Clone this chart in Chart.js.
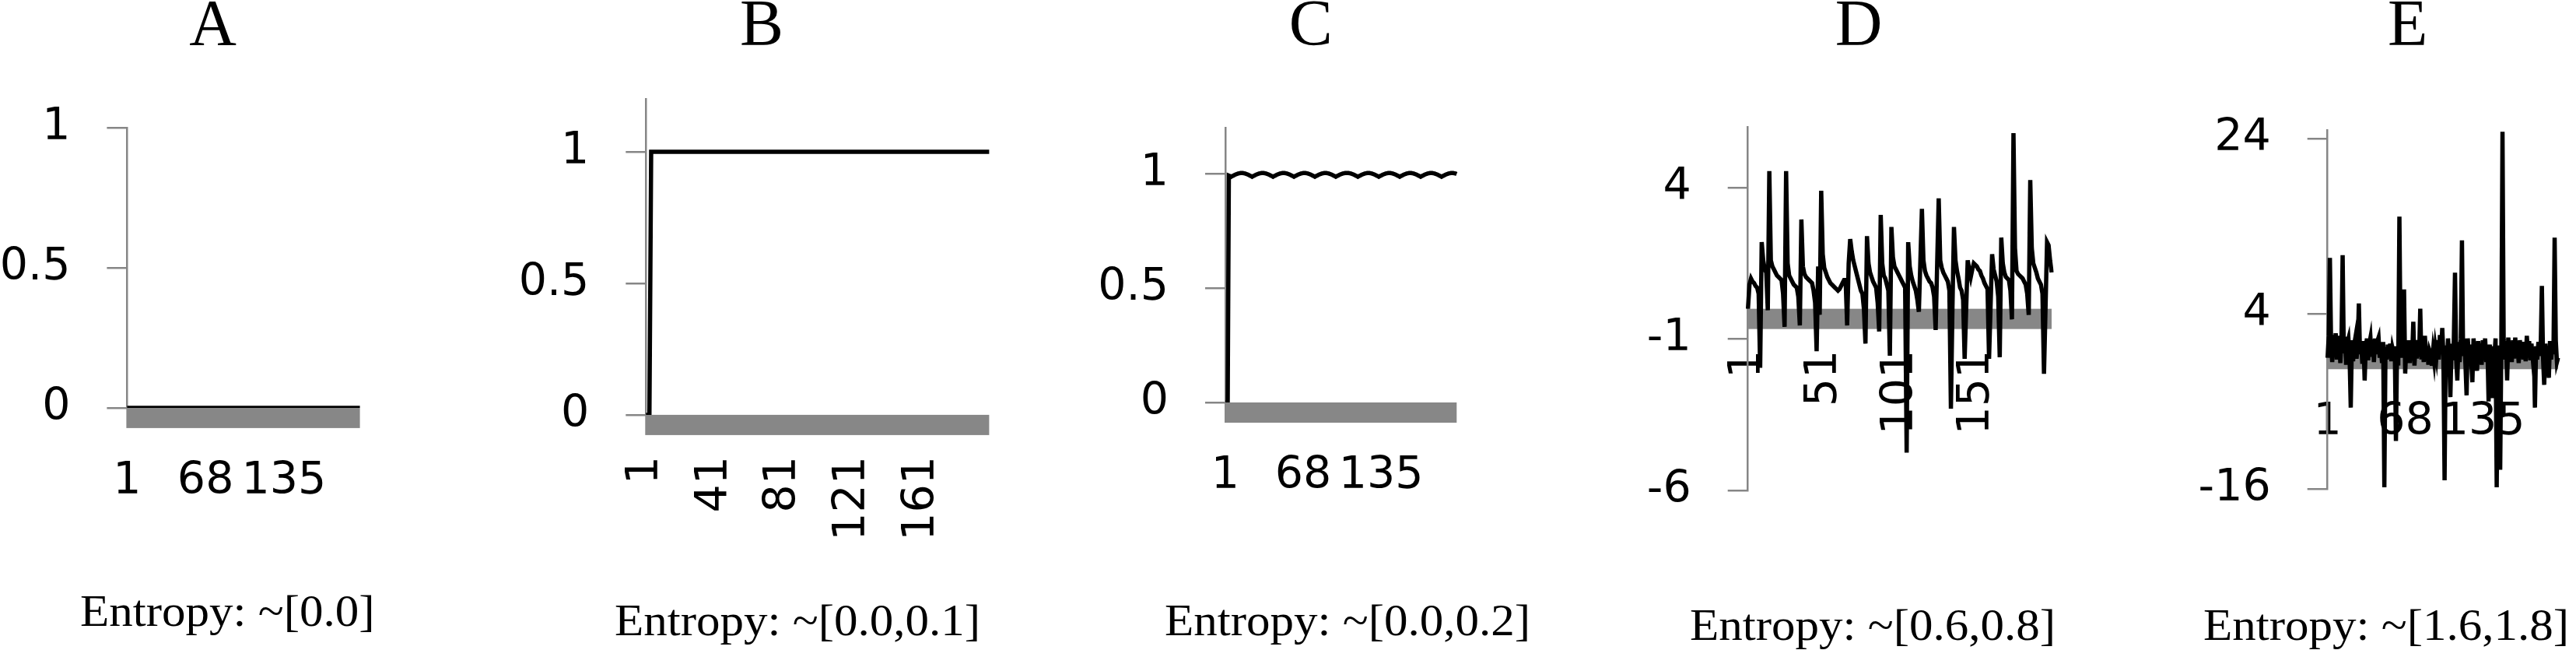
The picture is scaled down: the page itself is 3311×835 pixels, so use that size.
<!DOCTYPE html>
<html>
<head>
<meta charset="utf-8">
<script src="https://cdn.jsdelivr.net/npm/chart.js@4/dist/chart.umd.min.js"></script>
<style>
  body { margin: 0; width: 3311px; height: 835px; background: #fff; position: relative; overflow: hidden; }
  .panel { position: absolute; top: 0; }
  .title { position: absolute; top: -12px; font-family: 'Liberation Serif', serif; font-size: 84px; line-height: 84px; transform: translateX(-50%); white-space: nowrap; color: #000; }
  .caption { position: absolute; font-family: 'Liberation Serif', serif; font-size: 57px; line-height: 57px; white-space: nowrap; color: #000; transform: scaleX(1.07); transform-origin: left top; }
</style>
</head>
<body>
<script>
// categories 1..200 shared by every panel
const categories = [];
for (let i = 1; i <= 200; i++) categories.push(String(i));

const panelTitles = ['A', 'B', 'C', 'D', 'E'];
const captions = ['Entropy: ~[0.0]', 'Entropy: ~[0.0,0.1]', 'Entropy: ~[0.0,0.2]', 'Entropy: ~[0.6,0.8]', 'Entropy: ~[1.6,1.8]'];

const seriesA = [
  0,0,0,0,0,0,0,0,0,0,0,0,0,0,0,0,0,0,0,0,
  0,0,0,0,0,0,0,0,0,0,0,0,0,0,0,0,0,0,0,0,
  0,0,0,0,0,0,0,0,0,0,0,0,0,0,0,0,0,0,0,0,
  0,0,0,0,0,0,0,0,0,0,0,0,0,0,0,0,0,0,0,0,
  0,0,0,0,0,0,0,0,0,0,0,0,0,0,0,0,0,0,0,0,
  0,0,0,0,0,0,0,0,0,0,0,0,0,0,0,0,0,0,0,0,
  0,0,0,0,0,0,0,0,0,0,0,0,0,0,0,0,0,0,0,0,
  0,0,0,0,0,0,0,0,0,0,0,0,0,0,0,0,0,0,0,0,
  0,0,0,0,0,0,0,0,0,0,0,0,0,0,0,0,0,0,0,0,
  0,0,0,0,0,0,0,0,0,0,0,0,0,0,0,0,0,0,0,0
];

const seriesB = [
  0,0,0,1,1,1,1,1,1,1,1,1,1,1,1,1,1,1,1,1,
  1,1,1,1,1,1,1,1,1,1,1,1,1,1,1,1,1,1,1,1,
  1,1,1,1,1,1,1,1,1,1,1,1,1,1,1,1,1,1,1,1,
  1,1,1,1,1,1,1,1,1,1,1,1,1,1,1,1,1,1,1,1,
  1,1,1,1,1,1,1,1,1,1,1,1,1,1,1,1,1,1,1,1,
  1,1,1,1,1,1,1,1,1,1,1,1,1,1,1,1,1,1,1,1,
  1,1,1,1,1,1,1,1,1,1,1,1,1,1,1,1,1,1,1,1,
  1,1,1,1,1,1,1,1,1,1,1,1,1,1,1,1,1,1,1,1,
  1,1,1,1,1,1,1,1,1,1,1,1,1,1,1,1,1,1,1,1,
  1,1,1,1,1,1,1,1,1,1,1,1,1,1,1,1,1,1,1,1
];

const seriesC = [
  0, 0, 0, 0.992, 0.990,
  0.987,0.990,0.992,0.995,0.997,0.999,1.001,1.002,1.003,1.003,1.003,1.002,1.001,0.999,0.997,0.995,0.992,0.990,
  0.987,0.990,0.992,0.995,0.997,0.999,1.001,1.002,1.003,1.003,1.003,1.002,1.001,0.999,0.997,0.995,0.992,0.990,
  0.987,0.990,0.992,0.995,0.997,0.999,1.001,1.002,1.003,1.003,1.003,1.002,1.001,0.999,0.997,0.995,0.992,0.990,
  0.987,0.990,0.992,0.995,0.997,0.999,1.001,1.002,1.003,1.003,1.003,1.002,1.001,0.999,0.997,0.995,0.992,0.990,
  0.987,0.990,0.992,0.995,0.997,0.999,1.001,1.002,1.003,1.003,1.003,1.002,1.001,0.999,0.997,0.995,0.992,0.990,
  0.987,0.990,0.992,0.995,0.997,0.999,1.001,1.002,1.003,1.003,1.003,1.003,1.002,1.001,0.999,0.997,0.995,0.992,0.990,
  0.987,0.990,0.992,0.995,0.997,0.999,1.001,1.002,1.003,1.003,1.003,1.002,1.001,0.999,0.997,0.995,0.992,0.990,
  0.987,0.990,0.992,0.995,0.997,0.999,1.001,1.002,1.003,1.003,1.003,1.002,1.001,0.999,0.997,0.995,0.992,0.990,
  0.987,0.990,0.992,0.995,0.997,0.999,1.001,1.002,1.003,1.003,1.003,1.002,1.001,0.999,0.997,0.995,0.992,0.990,
  0.987,0.990,0.992,0.995,0.997,0.999,1.001,1.002,1.003,1.003,1.003,1.002,1.001,0.999,0.997,0.995,0.992,0.990,
  0.987,0.990,0.992,0.995,0.997,0.999,1.001,1.002,1.003,1.003,1.003,1.002,1.001,0.999
];

const seriesD = [
  0.0, 0.8, 1.0, 0.9, 0.85, 0.75, 0.7, 0.5, -1.95, 2.2,
  1.6, 1.3, 1.2, -0.05, 4.55, 1.6, 1.4, 1.3, 1.2, 1.1,
  1.05, 1.0, 0.95, 0.5, -0.6, 4.55, 1.5, 1.1, 1.0, 0.9,
  0.8, 0.75, 0.7, 0.4, -0.55, 2.95, 1.4, 1.15, 1.05, 1.0,
  0.95, 0.9, 0.85, 0.6, 0.2, -1.4, 1.4, -0.2, 3.9, 1.8,
  1.35, 1.2, 1.05, 0.95, 0.85, 0.8, 0.75, 0.7, 0.65, 0.6,
  0.65, 0.75, 0.85, 0.95, 0.95, -0.55, 1.5, 2.3, 1.9, 1.6,
  1.4, 1.2, 1.0, 0.8, 0.6, 0.5, 0.0, -1.15, 2.4, 1.5,
  1.2, 1.05, 0.9, 0.8, 0.7, 0.2, -0.75, 3.1, 1.5, 1.1,
  1.0, 0.8, 0.6, -1.55, 2.7, 1.7, 1.4, 1.3, 1.2, 1.1,
  1.0, 0.9, 0.8, 0.7, -4.75, 2.2, 1.4, 1.1, 0.9, 0.75,
  0.6, 0.3, -0.1, 1.6, 3.3, 1.6, 1.25, 1.1, 1.0, 0.9,
  0.85, 0.7, 0.4, -0.7, 1.5, 3.65, 1.6, 1.35, 1.2, 1.1,
  1.0, 0.9, 0.6, -3.3, 0.0, 2.7, 1.6, 1.25, 1.0, 0.7,
  0.6, 0.3, -1.65, 0.0, 1.6, 1.3, 1.05, 1.3, 1.5, 1.45,
  1.4, 1.3, 1.25, 1.1, 1.0, 0.85, 0.75, 0.65, -1.65, 0.1,
  1.8, 1.3, 1.1, 0.9, 0.4, -1.6, 2.35, 1.5, 1.2, 1.05,
  1.0, 0.95, 0.6, -0.35, 5.8, 2.0, 1.25, 1.15, 1.1, 1.05,
  1.0, 0.9, 0.8, 0.5, -0.2, 4.25, 2.0, 1.5, 1.35, 1.2,
  1.0, 0.9, 0.8, 0.5, -2.15, 0.0, 2.2, 2.1, 1.6, 1.2
];

const seriesE = [
  -1.0, 1.5, 10.4, 0.8, -1.5, 1.6, -0.8, 1.8, -1.2, 0.6,
  1.5, -1.6, 0.9, 10.7, -0.5, 1.4, -1.8, 0.7, 1.2, -0.9,
  -6.7, 1.0, -1.4, 0.5, 1.3, -1.1, 0.4, 5.2, -0.6, 0.8,
  -1.7, 0.9, -3.6, 0.3, 1.2, -1.3, 0.6, 1.3, -0.9, 1.1,
  -1.5, 1.2, -0.6, 0.9, 1.3, -1.0, 0.4, -1.6, 0.8, -15.8,
  0.2, -1.2, 0.5, -0.8, 0.6, -1.4, 0.1, -0.5, 0.3, -10.5,
  0.2, -1.9, 15.1, 0.5, -1.0, 1.2, 6.8, -2.8, 0.7, -1.3,
  1.0, -1.6, 0.4, -0.8, 3.1, -1.9, 0.6, -1.1, 1.0, -0.9,
  4.6, -1.2, 0.9, -1.5, 1.5, -0.7, 0.3, -1.8, -0.2, -0.6,
  -1.9, -0.3, -1.4, 0.2, -0.8, 1.0, -1.2, 1.6, -0.5, 2.4,
  -0.8, -15.0, 0.4, -1.6, 1.2, -0.9, -5.5, 0.6, -1.3, 1.0,
  8.7, -1.0, -3.6, 0.8, -1.5, 1.1, 12.4, -0.8, 1.2, -1.7,
  -5.3, 1.2, -0.9, 0.5, -1.4, -3.8, 1.2, -0.6, 0.3, -2.5,
  0.9, -1.2, 0.4, -1.8, 1.0, -0.9, 1.2, -1.5, 0.2, -6.0,
  0.5, -1.6, -5.6, 0.3, -1.0, 1.2, -15.8, 0.4, -0.9, -13.8,
  0.5, 24.8, 1.0, -1.2, 0.9, -3.6, 1.3, -0.8, 0.6, -1.5,
  1.0, -1.1, 1.3, -0.7, 0.5, -1.6, 1.0, -0.9, 0.8, -1.2,
  0.4, -1.4, 1.5, -0.5, 0.9, -1.3, 0.6, -0.9, 0.2, -6.7,
  0.3, -1.2, 0.8, -0.8, 0.4, 7.2, -1.0, -4.1, 0.6, -1.5,
  0.3, -3.3, 0.9, -1.2, 0.5, -0.6, 12.7, 1.0, -1.5, -1.0
];

// y ranges and tick labels
const yTicksA = [0, 0.5, 1];
const yTicksB = [0, 0.5, 1];
const yTicksC = [0, 0.5, 1];
const yTicksD = [-6, -1, 4];
const yTicksE = [-16, 4, 24];
const yRanges = [[0, 1], [0, 1.2], [0, 1.2], [-6, 6], [-16, 25]];

// x tick labels shown
const xTicksA = [1, 68, 135];
const xTicksB = [1, 41, 81, 121, 161];
const xTicksC = [1, 68, 135];
const xTicksD = [1, 51, 101, 151];
const xTicksE = [1, 68, 135];

const allSeries = [seriesA, seriesB, seriesC, seriesD, seriesE];
const allYTicks = [yTicksA, yTicksB, yTicksC, yTicksD, yTicksE];
const allXTicks = [xTicksA, xTicksB, xTicksC, xTicksD, xTicksE];

// layout: canvas left/width, plot left/right/top/bottom, title centre, caption left/top
const layouts = [
  { cl: 0,    cw: 620, pl: 163.4,  pr: 462.6,  pt: 164.4, pb: 523.9, tx: 273.6,  capX: 103,  capY: 756, rot: 0 },
  { cl: 620,  cw: 700, pl: 830.3,  pr: 1271.4, pt: 127.3, pb: 532.9, tx: 978.9,  capX: 790,  capY: 768, rot: 90 },
  { cl: 1320, cw: 680, pl: 1575,   pr: 1872.3, pt: 164.4, pb: 517,   tx: 1684.7, capX: 1497, capY: 768, rot: 0 },
  { cl: 2000, cw: 700, pl: 2246.7, pr: 2637,   pt: 163.3, pb: 630,   tx: 2389,   capX: 2172, capY: 774, rot: 90 },
  { cl: 2700, cw: 611, pl: 2991.7, pr: 3288,   pt: 167,   pb: 628.3, tx: 3094.6, capX: 2832, capY: 774, rot: 0 }
];

const AXIS_GREY = '#868686';
const BAND_GREY = '#878787';

// grey band just under the zero line, drawn before the data line
const zeroBand = {
  id: 'zeroBand',
  beforeDatasetsDraw(chart) {
    const { ctx, chartArea, scales } = chart;
    const y0 = scales.y.getPixelForValue(0);
    ctx.save();
    ctx.fillStyle = BAND_GREY;
    ctx.fillRect(chartArea.left - 1, y0, chartArea.right - chartArea.left + 1, 26);
    ctx.restore();
  }
};

layouts.forEach((L, i) => {
  const title = document.createElement('div');
  title.className = 'title';
  title.style.left = L.tx + 'px';
  title.textContent = panelTitles[i];
  document.body.appendChild(title);

  const cap = document.createElement('div');
  cap.className = 'caption';
  cap.style.left = L.capX + 'px';
  cap.style.top = L.capY + 'px';
  cap.textContent = captions[i];
  document.body.appendChild(cap);

  const wrap = document.createElement('div');
  wrap.className = 'panel';
  wrap.style.left = L.cl + 'px';
  const canvas = document.createElement('canvas');
  canvas.width = L.cw;
  canvas.height = 835;
  wrap.appendChild(canvas);
  document.body.appendChild(wrap);

  const yw = L.pl - L.cl;
  new Chart(canvas, {
    type: 'line',
    data: {
      labels: categories,
      datasets: [{
        data: allSeries[i],
        borderColor: '#000',
        borderWidth: 5.5,
        pointRadius: 0,
        tension: 0,
        fill: false
      }]
    },
    options: {
      responsive: false,
      animation: false,
      events: [],
      layout: { padding: { left: 0, top: L.pt, right: L.cl + L.cw - L.pr, bottom: 835 - L.pb } },
      plugins: { legend: { display: false }, tooltip: { enabled: false } },
      scales: {
        x: {
          type: 'category',
          position: { y: 0 },
          offset: false,
          grid: { display: false, drawTicks: false },
          border: { display: false },
          ticks: {
            autoSkip: false,
            minRotation: L.rot,
            maxRotation: L.rot,
            padding: L.rot ? 53 : 61,
            color: '#000',
            font: { family: 'DejaVu Sans', size: 57 }
          },
          afterBuildTicks: (a) => { a.ticks = allXTicks[i].map(v => ({ value: v - 1 })); },
          afterFit: (a) => { a.height = 0; a.paddingLeft = 0; a.paddingRight = 0; }
        },
        y: {
          min: yRanges[i][0],
          max: yRanges[i][1],
          grid: { drawOnChartArea: false, drawTicks: true, tickLength: 26, color: AXIS_GREY, lineWidth: 2.5 },
          border: { display: true, color: AXIS_GREY, width: 2.5 },
          ticks: {
            padding: 47,
            color: '#000',
            font: { family: 'DejaVu Sans', size: 57 },
            callback: (v) => String(v)
          },
          afterBuildTicks: (a) => { a.ticks = allYTicks[i].map(v => ({ value: v })); },
          afterFit: (a) => { a.width = yw; a.paddingTop = 0; a.paddingBottom = 0; }
        }
      }
    },
    plugins: [zeroBand]
  });
});
</script>
</body>
</html>
